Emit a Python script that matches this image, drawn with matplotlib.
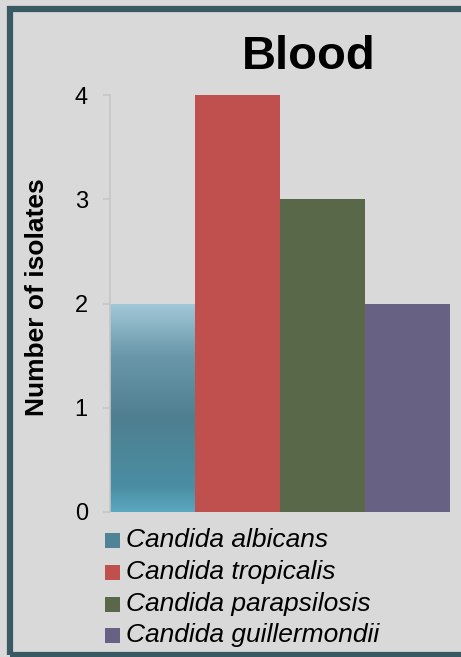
import matplotlib
matplotlib.use("Agg")
import matplotlib.pyplot as plt
import numpy as np
from matplotlib.patches import Rectangle
from matplotlib.colors import LinearSegmentedColormap

categories = ["Candida albicans", "Candida tropicalis", "Candida parapsilosis", "Candida guillermondii"]
values = [2, 4, 3, 2]
colors = ["#4f8496", "#c0504d", "#596848", "#676283"]
yticks = [0, 1, 2, 3, 4]
title = "Blood"
ylabel = "Number of isolates"

plt.rcParams['font.family'] = ['Liberation Sans', 'DejaVu Sans']

W, H = 461, 657
fig = plt.figure(figsize=(W/100, H/100), dpi=100, facecolor="#d9d9d9")

# frame
frame = Rectangle((10/W, 2.5/H), 1.2, (H-11.5)/H, transform=fig.transFigure,
                  fill=False, edgecolor="#3a5a63", linewidth=4.5, zorder=0)
fig.patches.append(frame)

ax = fig.add_axes([110/W, 1-512/H, 340/W, (512-95)/H])
ax.set_facecolor("#d9d9d9")
x = np.arange(len(categories))
bars = ax.bar(x, values, width=1.0, color=colors, zorder=2, linewidth=0)

# gradient for albicans bar
grad_cmap = LinearSegmentedColormap.from_list("alb", [
    (0.0, "#5ba8c0"), (0.12, "#4a8ea3"), (0.45, "#4e7f90"), (0.75, "#6a98aa"), (1.0, "#a2c8d8")])
b0 = bars[0]
grad = np.linspace(0, 1, 256).reshape(-1, 1)
im = ax.imshow(grad, cmap=grad_cmap, aspect="auto", origin="lower",
               extent=(b0.get_x(), b0.get_x()+b0.get_width(), 0, b0.get_height()), zorder=3)
im.set_clip_path(b0)
ax.set_xlim(-0.5, len(categories)-0.5)
ax.set_ylim(0, 4)

for s in ["top", "right", "bottom"]:
    ax.spines[s].set_visible(False)
ax.spines["left"].set_color("#c6c6c6")
ax.spines["left"].set_linewidth(1.2)
ax.spines["left"].set_zorder(4)
ax.set_xticks([])
ax.set_yticks(yticks)
ax.set_yticklabels([str(t) for t in yticks])
ax.tick_params(axis="y", length=5, width=1.2, color="#c6c6c6", pad=11, labelsize=17)

fig.text(309/W, 1-57/H, title, ha="center", va="center", fontsize=34, fontweight="bold")
fig.text(37/W, 1-297/H, ylabel, ha="center", va="center", rotation=90, fontsize=19, fontweight="bold")

# legend
rows = [540, 572, 604, 635]
for cat, c, yr in zip(categories, colors, rows):
    sq = Rectangle((105/W, 1-(yr+7.5)/H), 15/W, 15/H, transform=fig.transFigure,
                   facecolor=c, edgecolor="none")
    fig.patches.append(sq)
    fig.text(126/W, 1-yr/H, cat, ha="left", va="center", fontsize=19, style="italic")

fig.savefig("out.png", dpi=100, facecolor=fig.get_facecolor())
